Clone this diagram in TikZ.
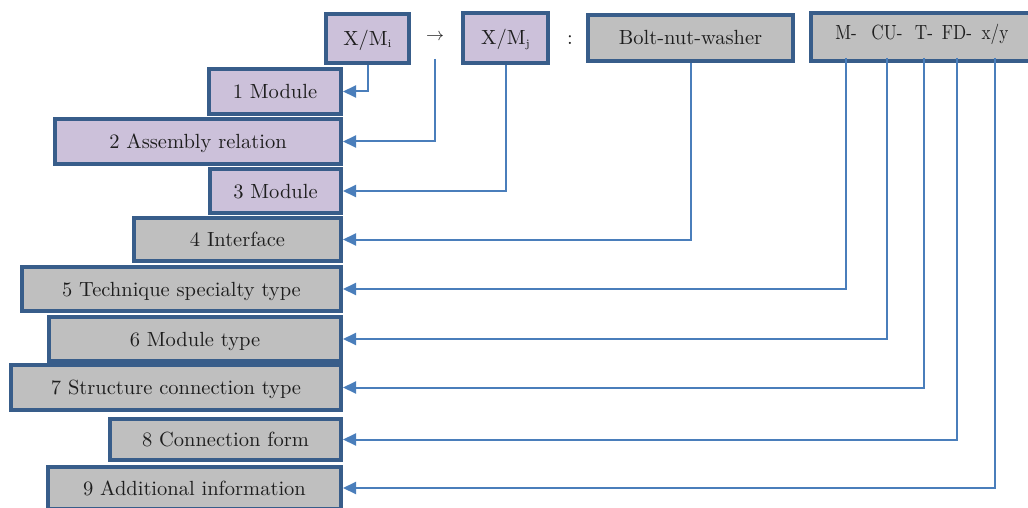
\documentclass[tikz,border=0pt]{standalone}
\usepackage{fontspec}
\usepackage{graphicx}
\usetikzlibrary{arrows.meta}
\definecolor{bordc}{RGB}{56,93,138}
\definecolor{lav}{RGB}{204,193,218}
\definecolor{grayf}{RGB}{191,191,191}
\definecolor{connc}{RGB}{74,126,187}
\definecolor{txt}{RGB}{30,30,30}
\newcommand\bigtxt[1]{\scalebox{2.05}{#1}}
\newcommand\codetxt[1]{\scalebox{1.72}[2.05]{#1}}
\newcommand\subsm[1]{\raisebox{-1pt}{\fontsize{5.5}{6}\selectfont #1}}
\begin{document}
\begin{tikzpicture}[x=1pt,y=-1pt,
  box/.style={draw=bordc, line width=4pt, inner sep=0pt, text=txt,
    font=\fontsize{10}{12}\selectfont, text height=14pt, text depth=0pt},
  pbox/.style={box, fill=lav},
  gbox/.style={box, fill=grayf},
  lbox/.style={anchor=east},
  tok/.style={inner sep=0pt, text=txt, font=\fontsize{10}{12}\selectfont},
  connector/.style={draw=connc, line width=2pt, -{Triangle[length=13pt,width=12pt]}}
]
\useasboundingbox (0,0) rectangle (1028,508);

% top row
\node[pbox, minimum width=83pt, minimum height=49pt] (xmi) at (367.5,38.5)
  {\bigtxt{X/M\subsm{i}}};
\node[tok] (arr) at (435,37) {\scalebox{1.8}{$\rightarrow$}};
\node[pbox, minimum width=85pt, minimum height=50pt] (xmj) at (505.5,38)
  {\bigtxt{X/M\subsm{j}}};
\node[tok] (colon) at (570,40) {\bigtxt{:}};
\node[gbox, minimum width=205pt, minimum height=46pt] (bolt) at (690.5,38) {\bigtxt{Bolt-nut-washer}};
\node[gbox, minimum width=227pt, minimum height=48pt] (code) at (924.5,37) {};
\node[tok, anchor=base] (tM) at (846,40) {\codetxt{M-}};
\node[tok, anchor=base] (tCU) at (887,40) {\codetxt{CU-}};
\node[tok, anchor=base] (tT) at (924,40) {\codetxt{T-}};
\node[tok, anchor=base] (tFD) at (957,40) {\codetxt{FD-}};
\node[tok, anchor=base] (tXY) at (995,40) {\codetxt{x/y}};

% left column
\node[pbox, lbox, minimum width=132pt, minimum height=45pt] (n1) at (343,91.5) {\bigtxt{1 Module}};
\node[pbox, lbox, minimum width=286pt, minimum height=45pt] (n2) at (343,141.5) {\bigtxt{2 Assembly relation}};
\node[pbox, lbox, minimum width=131pt, minimum height=44pt] (n3) at (343,191) {\bigtxt{3 Module}};
\node[gbox, lbox, minimum width=207pt, minimum height=43pt] (n4) at (343,239.5) {\bigtxt{4 Interface}};
\node[gbox, lbox, minimum width=319pt, minimum height=44pt] (n5) at (343,289) {\bigtxt{5 Technique specialty type}};
\node[gbox, lbox, minimum width=292pt, minimum height=44pt] (n6) at (343,339) {\bigtxt{6 Module type}};
\node[gbox, lbox, minimum width=330pt, minimum height=45pt] (n7) at (343,387.5) {\bigtxt{7 Structure connection type}};
\node[gbox, lbox, minimum width=231pt, minimum height=41pt] (n8) at (343,439.5) {\bigtxt{8 Connection form}};
\node[gbox, lbox, minimum width=293pt, minimum height=42pt] (n9) at (343,488) {\bigtxt{9 Additional information}};

% connectors
\draw[connector] (xmi.south) |- (n1.east);
\draw[connector] ([yshift=-22pt]arr.center) |- (n2.east);
\draw[connector] (xmj.south) |- (n3.east);
\draw[connector] (bolt.south) |- (n4.east);
\draw[connector] ([yshift=-18pt]tM.base) |- (n5.east);
\draw[connector] ([yshift=-18pt]tCU.base) |- (n6.east);
\draw[connector] ([yshift=-18pt]tT.base) |- (n7.east);
\draw[connector] ([yshift=-18pt]tFD.base) |- (n8.east);
\draw[connector] ([yshift=-18pt]tXY.base) |- (n9.east);
\end{tikzpicture}
\end{document}
